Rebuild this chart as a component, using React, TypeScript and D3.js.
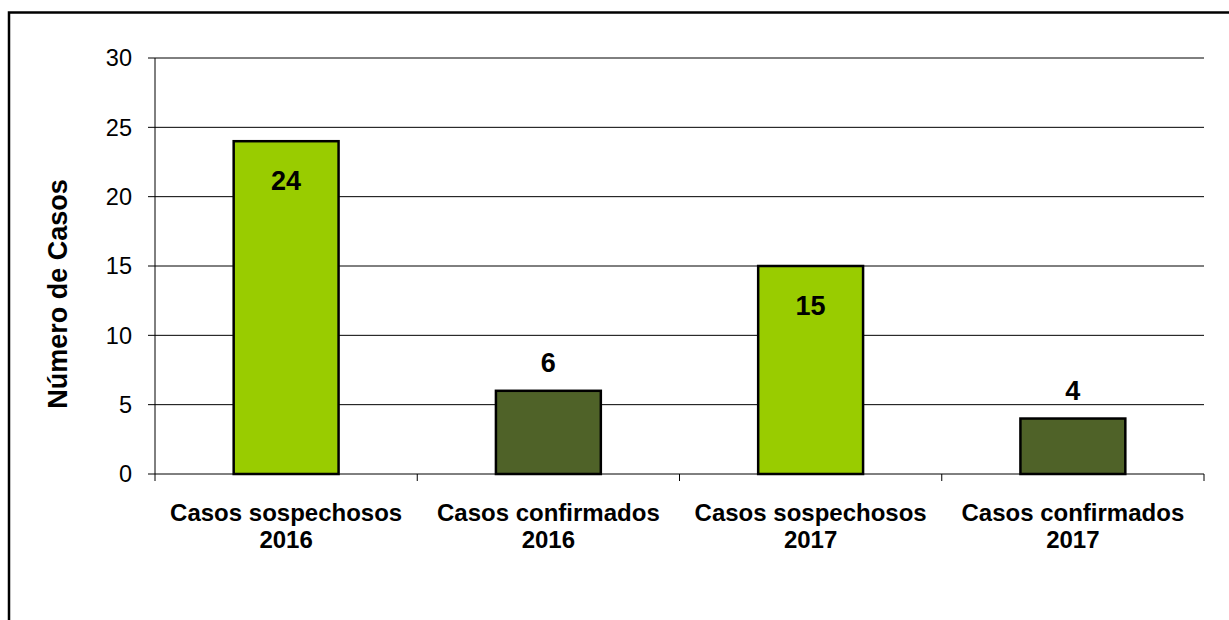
import React from "react";
import * as d3 from "d3";

// chart values
const categoryTop = ["Casos sospechosos", "Casos confirmados", "Casos sospechosos", "Casos confirmados"];
const categoryYear = ["2016", "2016", "2017", "2017"];
const values = [24, 6, 15, 4];
const kinds = ["sospechosos", "confirmados", "sospechosos", "confirmados"];
const yTicks = [0, 5, 10, 15, 20, 25, 30];
const yTitle = "Número de Casos";

const W = 1229, H = 620;
const margin = { top: 58, right: 25, bottom: 146, left: 155 };
const font = "Arial, 'Liberation Sans', sans-serif";

const App = () => {
  const xScale = d3.scaleBand<number>()
    .domain(values.map((_, i) => i))
    .range([margin.left, W - margin.right])
    .paddingInner(0.6)
    .paddingOuter(0.3);

  const yScale = d3.scaleLinear().domain([0, 30]).range([H - margin.bottom, margin.top]);

  const color = d3.scaleOrdinal<string, string>()
    .domain(["sospechosos", "confirmados"])
    .range(["#99CC00", "#4F6228"]);

  const step = xScale.step();
  const x0 = margin.left;
  const x1 = W - margin.right;
  const yBase = yScale(0);

  return (
    <svg width={W} height={H} style={{ position: "absolute", left: 0, top: 0, background: "#fff" }}>
      {/* outer frame, runs off the right and bottom */}
      <rect x={9} y={12.5} width={W + 20} height={H + 20} fill="none" stroke="#000" strokeWidth={2.5} />

      {/* gridlines */}
      {yTicks.filter(t => t > 0).map(t => (
        <line key={"g" + t} x1={x0} x2={x1} y1={yScale(t)} y2={yScale(t)} stroke="#000" strokeWidth={1} />
      ))}

      {/* y axis */}
      <line x1={x0} x2={x0} y1={yScale(30)} y2={yBase} stroke="#000" strokeWidth={1} />
      {yTicks.map(t => (
        <g key={"t" + t}>
          <line x1={x0 - 7} x2={x0} y1={yScale(t)} y2={yScale(t)} stroke="#000" strokeWidth={1} />
          <text x={132} y={yScale(t)} dy="0.36em" textAnchor="end" fontFamily={font} fontSize={23.5} fill="#000">
            {t}
          </text>
        </g>
      ))}

      {/* bars */}
      {values.map((v, i) => (
        <rect key={"b" + i}
          x={xScale(i)} y={yScale(v)} width={xScale.bandwidth()} height={yBase - yScale(v)}
          fill={color(kinds[i])} stroke="#000" strokeWidth={2.5} />
      ))}

      {/* x axis */}
      <line x1={x0} x2={x1} y1={yBase} y2={yBase} stroke="#000" strokeWidth={1} />
      {d3.range(values.length + 1).map(i => (
        <line key={"xt" + i} x1={x0 + i * step} x2={x0 + i * step} y1={yBase} y2={yBase + 7} stroke="#000" strokeWidth={1} />
      ))}

      {/* value labels: inside for tall bars, above for short */}
      {values.map((v, i) => {
        const cx = (xScale(i) ?? 0) + xScale.bandwidth() / 2;
        const inside = v > 10;
        return (
          <text key={"l" + i} x={cx} y={inside ? yScale(v) + 49 : yScale(v) - 19}
            textAnchor="middle" fontFamily={font} fontSize={27} fontWeight="bold" fill="#000">
            {v}
          </text>
        );
      })}

      {/* category labels */}
      {values.map((_, i) => {
        const cx = (xScale(i) ?? 0) + xScale.bandwidth() / 2;
        return (
          <text key={"c" + i} x={cx} textAnchor="middle" fontFamily={font} fontSize={24} fontWeight="bold" fill="#000">
            <tspan x={cx} y={521}>{categoryTop[i]}</tspan>
            <tspan x={cx} y={548}>{categoryYear[i]}</tspan>
          </text>
        );
      })}

      {/* y title */}
      <text transform={`translate(67, 294) rotate(-90)`} textAnchor="middle"
        fontFamily={font} fontSize={27} fontWeight="bold" fill="#000">
        {yTitle}
      </text>
    </svg>
  );
};

export default App;
